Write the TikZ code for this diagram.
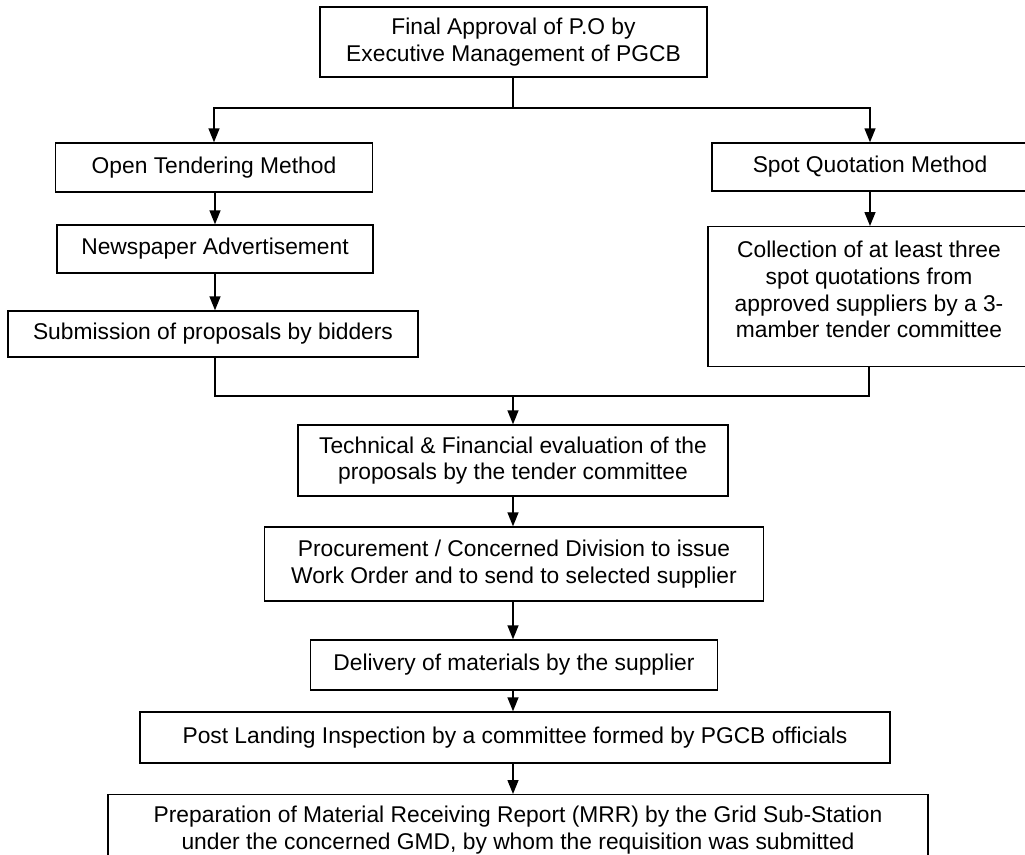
\documentclass[tikz,border=0pt]{standalone}
\usepackage{fontspec}
\setmainfont{Liberation Sans}
\usetikzlibrary{arrows.meta}
\begin{document}
\begin{tikzpicture}[x=1pt,y=-1pt,
  box/.style={draw, line width=1.4pt, inner sep=0pt, align=center,
    font=\fontsize{22.8}{26.7}\selectfont},
  txt/.style={inner sep=0pt, align=center, font=\fontsize{22.8}{26.7}\selectfont},
  link/.style={line width=1.4pt},
  arr/.style={line width=1.4pt, -{Triangle[length=14pt,width=11pt]}}]
\useasboundingbox (0,0) rectangle (1025,854);
% boxes
\node[box, minimum width=387pt, minimum height=70pt] (top) at (513.5,42)
  {Final Approval of P.O by\\Executive Management of PGCB};
\node[box, minimum width=317pt, minimum height=49pt] (open) at (214,167.5)
  {Open Tendering Method};
\node[box, minimum width=316pt, minimum height=48pt] (spot) at (870,167)
  {Spot Quotation Method};
\node[box, minimum width=316pt, minimum height=48pt] (news) at (215,249)
  {Newspaper Advertisement};
\node[box, minimum width=410pt, minimum height=46pt] (sub) at (213,334)
  {Submission of proposals by bidders};
\node[box, minimum width=322pt, minimum height=140pt, anchor=north] (coll) at (869,226) {};
\node[txt, anchor=north] (colltxt) at (869,241)
  {Collection of at least three\\spot quotations from\\approved suppliers by a 3-\\mamber tender committee};
\node[box, minimum width=430pt, minimum height=71pt] (tech) at (513,460.5)
  {Technical \& Financial evaluation of the\\proposals by the tender committee};
\node[box, minimum width=499pt, minimum height=74pt] (proc) at (514,564)
  {Procurement / Concerned Division to issue\\Work Order and to send to selected supplier};
\node[box, minimum width=407pt, minimum height=50pt] (deliv) at (514,665)
  {Delivery of materials by the supplier};
\node[box, minimum width=750pt, minimum height=51pt] (post) at (515,737.5)
  {Post Landing Inspection by a committee formed by PGCB officials};
\node[box, minimum width=820pt, minimum height=120pt, anchor=north] (prep) at (518,794) {};
\node[txt, anchor=north] (preptxt) at (518,806)
  {Preparation of Material Receiving Report (MRR) by the Grid Sub-Station\\under the concerned GMD, by whom the requisition was submitted};
% connectors
\coordinate (split) at (513,108);
\coordinate (merge) at (513,396);
\draw[link] (top.south -| split) -- (split);
\draw[arr] (split) -| (open.north);
\draw[arr] (split) -| (spot.north);
\draw[arr] (open.south -| news.north) -- (news.north);
\draw[arr] (spot.south) -- (coll.north -| spot);
\draw[arr] (news.south) -- (news.south |- sub.north);
\draw[link] (news.south |- sub.south) |- (merge);
\draw[link] (coll.south) |- (merge);
\draw[arr] (merge) -- (tech.north -| merge);
\draw[arr] (tech.south -| merge) -- (proc.north -| merge);
\draw[arr] (proc.south -| merge) -- (deliv.north -| merge);
\draw[arr] (deliv.south -| merge) -- (post.north -| merge);
\draw[arr] (post.south -| merge) -- (prep.north -| merge);
\end{tikzpicture}
\end{document}
